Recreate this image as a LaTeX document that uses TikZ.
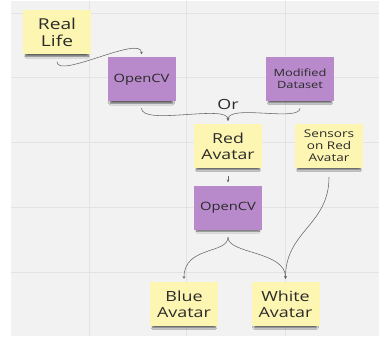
\documentclass[tikz,border=0pt]{standalone}
\usepackage{fontspec}
\usetikzlibrary{arrows.meta,shadows.blur}
\newfontfamily\notefont[FakeStretch=1.28]{Open Sans}
\definecolor{boardbg}{HTML}{F2F2F2}
\definecolor{gridline}{HTML}{E3E3E3}
\definecolor{stickyyellow}{HTML}{FDF6B2}
\definecolor{stickyviolet}{HTML}{B98ACB}
\definecolor{notetext}{HTML}{2A2A2A}
\definecolor{linkgray}{HTML}{666666}
\tikzset{
  sticky/.style={minimum width=68pt, minimum height=44pt, inner sep=0pt,
    align=center, text=notetext, font=\notefont,
    blur shadow={shadow xshift=0pt, shadow yshift=-4pt, shadow scale=0.92,
      shadow blur steps=6, shadow opacity=60}},
  yellownote/.style={sticky, fill=stickyyellow},
  violetnote/.style={sticky, fill=stickyviolet},
  link/.style={draw=linkgray, line width=0.55pt,
    -{Stealth[length=2.6pt,width=2.6pt]}}
}
\begin{document}
\begin{tikzpicture}[x=1pt,y=-1pt]
  \useasboundingbox (0,0) rectangle (379,339);
  % board and grid
  \fill[white] (0,0) rectangle (379,339);
  \fill[boardbg] (11,1) rectangle (379,336);
  \foreach \gx in {89,186,285} \draw[gridline, line width=0.8pt] (\gx,1) -- (\gx,336);
  \foreach \gy in {13,77,142,207,272} \draw[gridline, line width=0.8pt] (11,\gy) -- (379,\gy);

  % sticky notes
  \node[yellownote, font=\notefont\fontsize{15}{17}\selectfont] (life) at (57,32.5) {Real\\Life};
  \node[violetnote, font=\notefont\fontsize{11.5}{13}\selectfont] (cvA) at (141.5,79.5) {OpenCV};
  \node[violetnote, font=\notefont\fontsize{10}{12}\selectfont] (data) at (300,79) {Modified\\Dataset};
  \node[yellownote, font=\notefont\fontsize{13.8}{16}\selectfont] (red) at (228,146) {Red\\Avatar};
  \node[yellownote, font=\notefont\fontsize{10.6}{12}\selectfont] (sens) at (329,146) {Sensors\\on Red\\Avatar};
  \node[violetnote, font=\notefont\fontsize{11.5}{13}\selectfont] (cvB) at (228,207.5) {OpenCV};
  \node[yellownote, font=\notefont\fontsize{14}{16}\selectfont] (blue) at (184,304) {Blue\\Avatar};
  \node[yellownote, font=\notefont\fontsize{14}{16}\selectfont] (white) at (285.5,304) {White\\Avatar};

  % connector end points (shifts are in page points: negative = downwards)
  \coordinate (lifeOut) at ([yshift=-7pt]life.south);
  \coordinate (cvAin) at ([yshift=3pt]cvA.north);
  \coordinate (cvAout) at ([yshift=-6.5pt]cvA.south);
  \coordinate (dataOut) at ([yshift=-7pt]data.south);
  \coordinate (redIn) at ([yshift=3pt]red.north);
  \coordinate (redOut) at ([yshift=-8pt]red.south);
  \coordinate (cvBin) at ([yshift=3pt]cvB.north);
  \coordinate (cvBout) at ([yshift=-7.5pt]cvB.south);
  \coordinate (sensOut) at ([yshift=-9pt]sens.south);
  \coordinate (blueIn) at ([yshift=3pt]blue.north);
  \coordinate (whiteIn) at ([yshift=3pt]white.north);

  % connectors
  \draw[link] (lifeOut) .. controls ++(0,18) and ++(0,-20) .. (cvAin);
  \draw[link] (cvAout) .. controls ++(0,18) and ++(0,-17) .. (redIn);
  \draw[link] (dataOut) .. controls ++(0,14) and ++(0,-17) .. (redIn);
  \node[font=\notefont\fontsize{14}{16}\selectfont, text=notetext] (or) at (228,104.5) {Or};
  \draw[link] (redOut) -- (cvBin);
  \draw[link] (cvBout) .. controls ++(0,17) and ++(0,-33) .. (blueIn);
  \draw[link] (cvBout) .. controls ++(0,17) and ++(0,-28) .. (whiteIn);
  \draw[link] (sensOut) .. controls ++(0,48) and ++(0,-48) .. (whiteIn);
\end{tikzpicture}
\end{document}
